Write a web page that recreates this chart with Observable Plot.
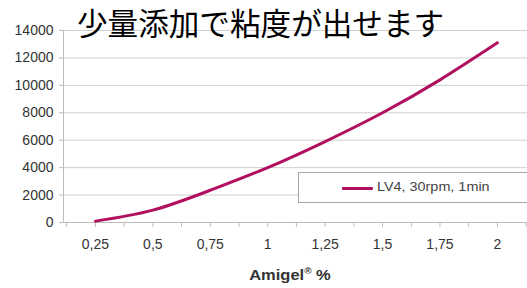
<!DOCTYPE html>
<html><head><meta charset="utf-8">
<script src="https://cdn.jsdelivr.net/npm/d3@7"></script>
<script src="https://cdn.jsdelivr.net/npm/@observablehq/plot@0.6"></script>
<style>
html,body{margin:0;padding:0;background:#fff;}
#wrap{position:relative;width:527px;height:288px;overflow:hidden;}
#title{position:absolute;left:77px;top:4px;font-family:"Noto Sans CJK JP",sans-serif;font-size:30.6px;line-height:36px;color:#000;white-space:nowrap;}
#legend{position:absolute;left:298px;top:172px;width:240px;height:29px;border:1px solid #a8a8a8;background:#fff;font-family:"Liberation Sans",Arial,sans-serif;font-size:12px;color:#444;}
#legend .sw{position:absolute;left:43px;top:14px;width:31px;height:3px;background:#b0105f;border-radius:1px;}
#legend .tx{position:absolute;left:78px;top:7px;white-space:nowrap;transform:scaleX(1.2);transform-origin:left center;}
</style></head>
<body><div id="wrap"></div>
<script>
const title = "少量添加で粘度が出せます";
const seriesName = "LV4, 30rpm, 1min";
const xLabel = "Amigel";
const amigel = [0.25, 0.5, 0.75, 1, 1.25, 1.5, 1.75, 2];
const viscosity = [100, 900, 2350, 4000, 5900, 8000, 10400, 13100];
const xTickValues = [0.25, 0.5, 0.75, 1, 1.25, 1.5, 1.75, 2];
const xTickLabels = ["0,25", "0,5", "0,75", "1", "1,25", "1,5", "1,75", "2"];
const xMinorTicks = [0.125, 0.25, 0.375, 0.5, 0.625, 0.75, 0.875, 1, 1.125, 1.25, 1.375, 1.5, 1.625, 1.75, 1.875, 2, 2.125];
const yTicks = [0, 2000, 4000, 6000, 8000, 10000, 12000, 14000];

const data = amigel.map((x, i) => ({x, y: viscosity[i]}));
const labelMap = new Map(xTickValues.map((v, i) => [v, xTickLabels[i]]));
const color = "#b0105f";

const chart = Plot.plot({
  width: 527, height: 288,
  marginLeft: 63, marginRight: 0, marginTop: 30, marginBottom: 66,
  style: {fontFamily: "'Liberation Sans', Arial, sans-serif", fontSize: "14px", color: "#333", background: "#fff"},
  x: {domain: [0.111, 2.131]},
  y: {domain: [0, 14000]},
  marks: [
    Plot.gridY(yTicks, {stroke: "#cfcfcf", strokeOpacity: 1, strokeWidth: 1}),
    Plot.ruleX([0.111], {stroke: "#bdbdbd"}),
    Plot.ruleY([0], {stroke: "#bdbdbd"}),
    Plot.axisY(yTicks, {tickSize: 4, tickPadding: 6, stroke: "#bdbdbd", fill: "#333", label: null, tickFormat: d => String(d)}),
    Plot.axisX(xMinorTicks, {tickSize: 5, stroke: "#bdbdbd", text: null, label: null}),
    Plot.axisX(xTickValues, {tickSize: 0, tickPadding: 17, fill: "#333", tickFormat: d => labelMap.get(d), label: null}),
    Plot.line(data, {x: "x", y: "y", stroke: color, strokeWidth: 3, curve: "natural"})
  ]
});
const wrap = document.getElementById("wrap");
wrap.appendChild(chart);

const t = document.createElement("div");
t.id = "title"; t.textContent = title; wrap.appendChild(t);

const lg = document.createElement("div");
lg.id = "legend";
lg.innerHTML = '<div class="sw"></div><div class="tx"></div>';
lg.querySelector(".tx").textContent = seriesName;
wrap.appendChild(lg);

const xl = document.createElement("div");
xl.style.cssText = "position:absolute;left:0;width:580px;top:266px;text-align:center;font-family:'Liberation Sans',Arial,sans-serif;font-weight:bold;font-size:15px;color:#333;transform:scaleX(1.1);transform-origin:290px center;";
xl.innerHTML = xLabel + '<sup style="font-size:9px;">®</sup> %';
wrap.appendChild(xl);
</script>
</body></html>
